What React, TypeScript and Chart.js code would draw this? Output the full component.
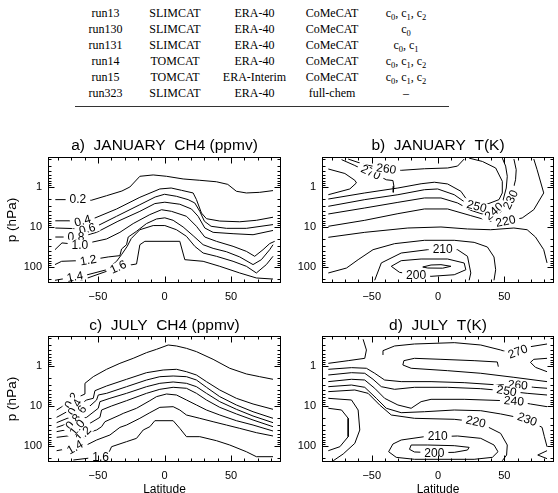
import React, { useEffect, useRef } from "react";
import { Chart, registerables } from "chart.js";

Chart.register(...registerables);

type Pt = [number, number]; // [latitude, pressure hPa]
type Lbl = [string, number, number, number]; // text, latitude, pressure, angle (deg)

// ---------------- Table ----------------
const runNames = ["run13", "run130", "run131", "run14", "run15", "run323"];
const modelNames = ["SLIMCAT", "SLIMCAT", "SLIMCAT", "TOMCAT", "TOMCAT", "SLIMCAT"];
const forcings = ["ERA-40", "ERA-40", "ERA-40", "ERA-40", "ERA-Interim", "ERA-40"];
const chemSchemes = ["CoMeCAT", "CoMeCAT", "CoMeCAT", "CoMeCAT", "CoMeCAT", "full-chem"];
const coefIndices: number[][] = [[0, 1, 2], [0], [0, 1], [0, 1, 2], [0, 1, 2], []];

// ---------------- Axes ----------------
const latTicks = [-50, 0, 50];
const pTicks = [1, 10, 100];
const latRange: Pt = [-87.5, 87.5];
const pRange: Pt = [0.178, 251];

// ---------------- a) January CH4 (ppmv) ----------------
const janCh4_02: Pt[] = [[-82, 2.07], [-65, 2.07], [-55, 2.15], [-43.5, 1.65], [-32, 1.26], [-26, 1.0], [-18.5, 0.54], [-8.5, 0.5], [1.5, 0.54], [14, 0.63], [26.5, 0.68], [39, 0.74], [47.5, 0.86], [54, 1.28], [61.5, 1.41], [71.5, 1.36], [81.5, 1.23]];
const janCh4_04: Pt[] = [[-82, 7.0], [-61.5, 7.0], [-53.5, 6.2], [-36, 3.55], [-18.5, 1.81], [-3.5, 1.12], [5, 1.06], [12.75, 1.21], [21.5, 1.41], [24, 2.07], [27.75, 4.47], [31.5, 6.2], [41.5, 7.1], [56.5, 7.4], [69, 6.8], [81.5, 5.7]];
const janCh4_06: Pt[] = [[-82, 10.6], [-58, 11.2], [-51, 9.6], [-36, 5.4], [-18.5, 2.77], [-7, 1.78], [0, 1.52], [9, 1.71], [17.75, 2.07], [22.75, 2.51], [26.5, 4.06], [30, 7.2], [35, 9.6], [46.5, 10.8], [61.5, 10.8], [81.5, 8.7]];
const janCh4_08: Pt[] = [[-82, 17.8], [-66.5, 17.8], [-59.75, 16.5], [-51, 13.6], [-35, 7.2], [-18.5, 4.06], [-7.25, 2.6], [0.25, 2.4], [11.5, 2.7], [20.25, 3.55], [25.25, 5.4], [30.25, 10.6], [36.5, 13.6], [51.5, 14.7], [66.5, 15.6], [81.5, 12.2]];
const janCh4_10: Pt[] = [[-82.25, 36.9], [-77, 25], [-63.5, 27.7], [-57.25, 25.1], [-43.5, 19.9], [-33.5, 13.6], [-23.5, 8.2], [-11, 4.9], [-2.25, 3.7], [5.25, 4.06], [16.5, 5.4], [24, 9.6], [30.25, 17.8], [39, 22.8], [51.5, 30.4], [61.5, 40.6], [67.75, 54], [74, 36.9], [79, 26], [82.75, 22.8]];
const janCh4_12: Pt[] = [[-82.25, 87], [-77.25, 72], [-57.25, 68], [-42.25, 56], [-33.5, 52], [-32.25, 35.5], [-28.5, 27.7], [-27.25, 17.8], [-21, 12.8], [-13.5, 8.2], [-6, 6.3], [0.25, 5.9], [6.5, 6.8], [14, 10.0], [21.5, 16.5], [29, 27.7], [36.5, 34.2], [46.5, 41.5], [56.5, 56], [66.5, 87], [72.75, 65.6], [79, 36.9], [81.5, 27.7]];
const janCh4_14: Pt[] = [[-82.25, 215], [-67.25, 175], [-58.5, 158], [-43.5, 117], [-36, 72], [-32.25, 49], [-28, 30.4], [-25, 19.5], [-18.5, 11.7], [-8.5, 9.2], [0.25, 9.2], [9, 11.7], [16.5, 17.1], [22.75, 30.4], [29, 44.7], [39, 54], [51.5, 72], [61.5, 96], [69, 141], [76.5, 87], [81.5, 54]];
const janCh4_16: Pt[] = [[-63.5, 220], [-43.5, 128], [-34.75, 100], [-21, 84], [-18.5, 27.7], [-14.75, 22.8], [11.5, 22.8], [15.25, 65.6], [29, 72], [41.5, 96], [56.5, 141], [69, 188], [81.5, 200]];
const janCh4Labels: Lbl[] = [["0.2", -65, 2.07, 0], ["0.4", -61.5, 7.0, -15], ["0.6", -58, 11.2, -15], ["0.8", -66.5, 17.8, 0], ["1.0", -63.5, 27.7, 0], ["1.2", -57.25, 68, -10], ["1.4", -67.25, 175, -10], ["1.6", -34.75, 100, -25]];

// ---------------- b) January T(K) ----------------
const janT_270a: Pt[] = [[-82.75, 0.355], [-70.25, 0.46], [-62.75, 0.68], [-61.5, 0.79], [-66.5, 1.12], [-82.75, 1.56]];
const janT_270: Pt[] = [[-72.75, 0.207], [-62.75, 0.29], [-56.5, 0.37], [-50.75, 0.43], [-44, 0.54], [-39, 0.66], [-34, 0.69], [-33.25, 0.96], [-33.75, 1.36]];
const janT_260: Pt[] = [[-67.75, 0.2], [-55.25, 0.277], [-39, 0.35], [-27.75, 0.383], [-10.25, 0.35], [7.25, 0.335], [14.75, 0.3], [19.75, 0.2]];
const janT_250: Pt[] = [[-82.75, 2.0], [-55.25, 1.41], [-30.25, 1.06], [-12.75, 0.83], [-2.75, 0.76], [7.25, 0.84], [17.25, 1.28], [23.5, 2.51], [29.25, 3.04], [36, 2.77], [46, 2.07], [48.5, 1.41], [48.5, 0.72], [43.5, 0.335], [33.5, 0.23], [23.5, 0.19]];
const janT_240: Pt[] = [[-82.75, 3.04], [-55.25, 2.07], [-30.25, 1.56], [-10.25, 1.17], [-0.25, 1.12], [12.25, 1.56], [22.25, 2.66], [32.25, 3.83], [42.25, 4.06], [48.5, 2.51], [51.5, 1.06], [52.25, 0.54], [51, 0.3], [48.5, 0.19]];
const janT_230: Pt[] = [[-82.75, 4.73], [-55.25, 3.35], [-30.25, 2.42], [-10.25, 1.88], [2.25, 1.88], [14.75, 2.51], [24.75, 3.83], [37.25, 5.2], [47.25, 4.3], [54.75, 2.07], [58.5, 0.66], [59, 0.37], [57.25, 0.2]];
const janT_220: Pt[] = [[-82.75, 9.6], [-55.25, 6.8], [-30.25, 4.64], [-10.25, 3.54], [7.25, 3.54], [24.75, 5.2], [39.75, 7.2], [51, 7.2], [63.5, 5.96], [72.25, 3.69], [79.75, 1.41], [74.75, 0.37], [72.25, 0.2]];
const janT_220b: Pt[] = [[-82.75, 18.1], [-55.25, 13.6], [-22.75, 10.6], [2.25, 10.0], [22.25, 11.2], [39.75, 11.7], [57.25, 10.6], [67.25, 11.7], [73.5, 17.8], [79.75, 36.9], [82.25, 79]];
const janT_215: Pt[] = [[-82.75, 141], [-69, 106], [-60.25, 65.6], [-49, 36.9], [-32.75, 26.1], [-10.25, 21.5], [12.25, 21.5], [27.25, 24.2], [37.25, 31.6], [42.25, 56.2], [43.5, 117], [42.25, 215]];
const janT_210: Pt[] = [[-47.75, 215], [-42.75, 79], [-27.75, 44.7], [-7.75, 36.9], [3.5, 36.9], [14.75, 36.9], [22.25, 54], [24.75, 141], [23.5, 215]];
const janT_200: Pt[] = [[-35.25, 96], [-27.75, 69.5], [-12.75, 63.1], [7.25, 63.1], [19.75, 79.4], [21, 117], [12.25, 156], [-5.25, 171], [-16.5, 156], [-29, 136], [-35.25, 96]];
const janT_190: Pt[] = [[-11.5, 100], [-5.25, 89], [2.25, 87.4], [9.75, 96], [3.5, 107], [-7.75, 106], [-11.5, 100]];
const janTLabels: Lbl[] = [["270", -50.75, 0.43, 25], ["260", -39, 0.35, 8], ["250", 29.25, 3.04, 15], ["240", 42.25, 4.06, -40], ["230", 54.75, 2.07, -65], ["220", 51, 7.2, -12], ["210", 3.5, 36.9, 0], ["200", -16.5, 160, 0]];

// ---------------- c) July CH4 (ppmv) ----------------
const julCh4_02: Pt[] = [[-81, 12.6], [-69.75, 7.36], [-63, 5.62], [-59.75, 5.01], [-59.75, 2.71], [-53.5, 1.85], [-43.5, 1.21], [-33.5, 0.858], [-23.5, 0.643], [-13.5, 0.464], [-6, 0.383], [2.75, 0.299], [9, 0.316], [16.5, 0.362], [24, 0.438], [36.5, 0.681], [49, 1.14], [61.5, 1.58], [71.5, 1.85], [81.5, 2.15]];
const julCh4_04: Pt[] = [[-81, 19.2], [-67.25, 10.8], [-58.5, 7.08], [-53.5, 6.43], [-52.25, 4.14], [-43.5, 3.16], [-28.5, 2.15], [-13.5, 1.47], [-1, 1.26], [9, 1.21], [16.5, 1.39], [24, 1.68], [31.5, 2.46], [41.5, 3.98], [54, 6.43], [66.5, 8.91], [81.5, 12.1]];
const julCh4_06: Pt[] = [[-81, 26.1], [-64, 15.3], [-56, 10], [-51, 7.08], [-49.75, 5.31], [-43.5, 4.82], [-28.5, 3.29], [-13.5, 2.24], [-3.5, 1.85], [6.5, 1.78], [16.5, 1.85], [24, 2.24], [31.5, 3.41], [41.5, 5.84], [54, 9.44], [66.5, 13.9], [81.5, 20.3]];
const julCh4_08: Pt[] = [[-81, 34.2], [-68.5, 24.7], [-58.5, 19.2], [-49.75, 11.4], [-48.5, 7.79], [-41, 6.43], [-28.5, 4.82], [-13.5, 3.29], [-3.5, 2.71], [6.5, 2.51], [16.5, 2.71], [24, 3.29], [31.5, 4.82], [41.5, 7.79], [54, 12.1], [66.5, 17.8], [81.5, 26.1]];
const julCh4_10: Pt[] = [[-81, 43.8], [-65.5, 34.8], [-56, 27.1], [-48.5, 19.2], [-47.25, 12.6], [-39.75, 10], [-28.5, 7.36], [-13.5, 4.82], [-3.5, 3.83], [6.5, 3.41], [16.5, 3.61], [24, 4.82], [31.5, 7.08], [41.5, 10.8], [54, 15.8], [66.5, 22.4], [81.5, 32.9]];
const julCh4_12: Pt[] = [[-81, 60.7], [-61, 50.1], [-51, 39.8], [-47.25, 32.9], [-44.75, 24.7], [-33.5, 16.8], [-31, 15.3], [-21, 11.4], [-11, 7.36], [-6, 5.84], [1.5, 5.01], [9, 5.31], [16.5, 7.08], [24, 9.44], [31.5, 12.6], [41.5, 16.8], [54, 23.3], [66.5, 29.9], [81.5, 42.2]];
const julCh4_14: Pt[] = [[-81, 131], [-67.25, 108], [-58.5, 94.4], [-51, 70.8], [-41, 53.1], [-33.5, 34.2], [-28.5, 29.9], [-18.5, 20.3], [-11, 14.7], [-3.5, 10.8], [6.5, 10.4], [11.5, 12.6], [16.5, 16.8], [26.5, 20.3], [36.5, 24.7], [46.5, 29.9], [56.5, 36.2], [69, 46.4], [81.5, 56.2]];
const julCh4_16: Pt[] = [[-68.5, 224], [-48, 185], [-42.25, 158], [-39.75, 104], [-28.5, 77.9], [-21, 64.3], [-16, 39.8], [-11, 32.9], [-7.25, 23.3], [6.5, 23.3], [11.5, 36.2], [16.5, 58.4], [26.5, 58.4], [39, 73.6], [49, 94.4], [61.5, 139], [69, 185], [81.5, 185]];
const julCh4Labels: Lbl[] = [["0.2", -69.75, 7.36, -60], ["0.4", -67.25, 10.8, -60], ["0.6", -64, 15.3, -55], ["0.8", -68.5, 24.7, -50], ["1.0", -65.5, 34.8, -50], ["1.2", -61, 50.1, -45], ["1.4", -67.25, 108, -30], ["1.6", -48, 185, 0]];

// ---------------- d) July T(K) ----------------
const julT_topLeft: Pt[] = [[-82.75, 0.858], [-67.75, 0.736], [-55.25, 0.643], [-54, 0.398], [-56.5, 0.215]];
const julT_270: Pt[] = [[-41.5, 0.531], [-41.5, 0.414], [-32.75, 0.316], [-17.75, 0.282], [12.25, 0.261], [32.25, 0.299], [47.25, 0.398], [54.75, 0.483], [60.25, 0.438], [69.75, 0.329], [82.25, 0.282]];
const julT_265: Pt[] = [[45.5, 1.04], [44.75, 0.794], [27.25, 0.736], [2.25, 0.681], [-17.75, 0.643], [-25.75, 0.736], [-26.5, 0.944], [-20.25, 1.14], [7.25, 1.31], [32.25, 1.52], [57.25, 1.92], [82.25, 2.46]];
const julT_270r: Pt[] = [[82.25, 0.643], [72.25, 0.681], [69.75, 0.81], [73.5, 1.08], [82.25, 1.39]];
const julT_260: Pt[] = [[-82.75, 1.21], [-65.25, 1.1], [-54, 1.14], [-47.75, 1.52], [-40.25, 2.24], [-27.75, 2.46], [-5.25, 2.46], [19.75, 2.61], [42.25, 2.93], [60.25, 2.99], [72.25, 3.41], [82.25, 3.61]];
const julT_250: Pt[] = [[-82.75, 1.68], [-65.25, 1.47], [-55.25, 1.52], [-49, 2.15], [-42.75, 3.29], [-32.75, 3.83], [-17.75, 3.41], [7.25, 3.41], [32.25, 3.69], [51.75, 4.22], [67.25, 4.82], [82.25, 5.31]];
const julT_240: Pt[] = [[-82.75, 2.46], [-65.25, 2.15], [-55.25, 2.24], [-47.75, 3.61], [-40.25, 6.43], [-30.25, 9.44], [-20.25, 11.4], [-12.75, 7.79], [-5.25, 6.81], [19.75, 6.81], [42.25, 7.21], [57.25, 7.5], [69.75, 8.91], [82.25, 10.4]];
const julT_230: Pt[] = [[-82.75, 3.29], [-65.25, 2.99], [-55.25, 3.41], [-46.5, 6.43], [-39, 11.4], [-27.75, 14.7], [-10.25, 13.9], [12.25, 12.6], [32.25, 13.1], [47.25, 15.8], [67.25, 21.5], [78.5, 34.2], [80.25, 58.4], [82.25, 104]];
const julT_220: Pt[] = [[-82.75, 4.38], [-62.75, 3.98], [-52.75, 4.82], [-44, 9.44], [-35.25, 16.8], [-17.75, 20.3], [12.25, 21.5], [28.5, 24.7], [37.25, 32.9], [47.25, 48.3], [52.25, 94.4], [51.75, 168], [48.5, 233]];
const julT_225: Pt[] = [[-82.75, 11.4], [-72.75, 12.6], [-67.75, 20.3], [-67.75, 58.4], [-74, 104], [-82.75, 131]];
const julT_220b: Pt[] = [[-82.75, 6.43], [-65.25, 7.08], [-60.25, 12.6], [-59, 39.8], [-62.75, 85.8], [-71.5, 158], [-79, 233]];
const julT_210: Pt[] = [[-37.25, 139], [-34, 89.1], [-27.75, 70.8], [-10.25, 58.4], [-0.25, 58.4], [14.75, 56.2], [32.25, 64.3], [42.25, 94.4], [45.25, 139], [41, 192], [27.25, 215], [-17.75, 215], [-31.5, 192], [-37.25, 139]];
const julT_200: Pt[] = [[-20.25, 94.4], [-21.5, 121], [-17.75, 141], [-2.75, 147], [12.25, 144], [22.25, 126], [23.5, 108], [12.25, 98.1], [-7.75, 94.4], [-20.25, 94.4]];
const julT_rightLow: Pt[] = [[82.25, 131], [75.25, 168], [82.25, 207]];
const julTLabels: Lbl[] = [["270", 60.25, 0.438, -20], ["260", 60.25, 2.99, 5], ["250", 51.75, 4.22, 10], ["240", 57.25, 7.5, 5], ["230", 67.25, 21.5, 20], ["220", 28.5, 24.7, 12], ["210", -0.25, 58.4, 0], ["200", -2.75, 147, 0]];

// ---------------- Rendering ----------------
const SANS = '"Liberation Sans", Arial, Helvetica, sans-serif';

interface PanelSpec {
  title: string;
  lines: Pt[][];
  labels: Lbl[];
  left: number;
  top: number;
  width: number;
  height: number;
  padRight: number;
  yTitle: boolean;
  xTitle: boolean;
  titlePadTop: number;
  titlePadBottom: number;
  xAxisHeight: number;
}

const panels: PanelSpec[] = [
  { title: "a)  JANUARY  CH4 (ppmv)", lines: [janCh4_02, janCh4_04, janCh4_06, janCh4_08, janCh4_10, janCh4_12, janCh4_14, janCh4_16], labels: janCh4Labels, left: 0, top: 120, width: 290, height: 192, padRight: 9, yTitle: true, xTitle: false, titlePadTop: 16.2, titlePadBottom: 2.2, xAxisHeight: 29 },
  { title: "b)  JANUARY  T(K)", lines: [janT_270a, janT_270, janT_260, janT_250, janT_240, janT_230, janT_220, janT_220b, janT_215, janT_210, janT_200, janT_190], labels: janTLabels, left: 274, top: 120, width: 284, height: 192, padRight: 4, yTitle: false, xTitle: false, titlePadTop: 16.2, titlePadBottom: 2.2, xAxisHeight: 29 },
  { title: "c)  JULY  CH4 (ppmv)", lines: [julCh4_02, julCh4_04, julCh4_06, julCh4_08, julCh4_10, julCh4_12, julCh4_14, julCh4_16], labels: julCh4Labels, left: 0, top: 300, width: 290, height: 200, padRight: 9, yTitle: true, xTitle: true, titlePadTop: 16.2, titlePadBottom: 1.2, xAxisHeight: 38 },
  { title: "d)  JULY  T(K)", lines: [julT_topLeft, julT_270, julT_265, julT_270r, julT_260, julT_250, julT_240, julT_230, julT_220, julT_225, julT_220b, julT_210, julT_200, julT_rightLow], labels: julTLabels, left: 274, top: 300, width: 284, height: 200, padRight: 4, yTitle: false, xTitle: true, titlePadTop: 16.2, titlePadBottom: 1.2, xAxisHeight: 38 },
];

function makeDecor(labels: Lbl[]) {
  return {
    id: "contourDecor",
    afterDatasetsDraw(chart: any) {
      const { ctx, chartArea, scales } = chart;
      const xs = scales.x;
      const ys = scales.y;
      ctx.save();
      // contour labels
      ctx.font = `12px ${SANS}`;
      ctx.textAlign = "center";
      ctx.textBaseline = "middle";
      for (const [t, lat, p, ang] of labels) {
        const px = xs.getPixelForValue(lat);
        const py = ys.getPixelForValue(p);
        ctx.save();
        ctx.translate(px, py);
        ctx.rotate((ang * Math.PI) / 180);
        const w = ctx.measureText(t).width;
        ctx.fillStyle = "#fff";
        ctx.fillRect(-w / 2 - 4, -5, w + 8, 10);
        ctx.fillStyle = "#000";
        ctx.fillText(t, 0, 0.5);
        ctx.restore();
      }
      // frame and inward ticks
      const L = Math.round(chartArea.left) + 0.5;
      const R = Math.round(chartArea.right) - 0.5;
      const T = Math.round(chartArea.top) + 0.5;
      const B = Math.round(chartArea.bottom) - 0.5;
      ctx.strokeStyle = "#000";
      ctx.lineWidth = 1;
      ctx.strokeRect(L, T, R - L, B - T);
      ctx.beginPath();
      for (let v = -80; v <= 80; v += 10) {
        const X = Math.round(xs.getPixelForValue(v)) + 0.5;
        const len = v % 50 === 0 ? 6 : 3;
        ctx.moveTo(X, T);
        ctx.lineTo(X, T + len);
        ctx.moveTo(X, B);
        ctx.lineTo(X, B - len);
      }
      for (const d of [0.1, 1, 10, 100]) {
        for (let m = 1; m <= 9; m++) {
          const v = m * d;
          if (v < pRange[0] || v > pRange[1]) continue;
          const Y = Math.round(ys.getPixelForValue(v)) + 0.5;
          const len = m === 1 ? 6 : 3;
          ctx.moveTo(L, Y);
          ctx.lineTo(L + len, Y);
          ctx.moveTo(R, Y);
          ctx.lineTo(R - len, Y);
        }
      }
      ctx.stroke();
      ctx.restore();
    },
  };
}

function Panel({ spec }: { spec: PanelSpec }) {
  const ref = useRef<HTMLCanvasElement>(null);
  useEffect(() => {
    const canvas = ref.current;
    if (!canvas) return;
    const chart = new Chart(canvas, {
      type: "scatter",
      data: {
        datasets: spec.lines.map((ln) => ({
          data: ln.map(([lat, p]) => ({ x: lat, y: p })),
          showLine: true,
          borderColor: "#000",
          borderWidth: 1,
          pointRadius: 0,
          pointHoverRadius: 0,
          fill: false,
          tension: 0,
        })),
      },
      options: {
        responsive: false,
        animation: false,
        devicePixelRatio: 1,
        events: [],
        layout: { padding: { left: 0, right: spec.padRight, top: 0, bottom: 0 } },
        plugins: {
          legend: { display: false },
          tooltip: { enabled: false },
          title: {
            display: true,
            text: spec.title,
            fullSize: false,
            color: "#000",
            font: { family: SANS, size: 15.5, weight: "normal", lineHeight: 1.2 },
            padding: { top: spec.titlePadTop, bottom: spec.titlePadBottom },
          },
        },
        scales: {
          x: {
            type: "linear",
            position: "bottom",
            min: latRange[0],
            max: latRange[1],
            grid: { display: false, drawTicks: false },
            border: { display: false },
            afterBuildTicks: (s: any) => {
              s.ticks = latTicks.map((v) => ({ value: v }));
            },
            afterFit: (s: any) => {
              s.height = spec.xAxisHeight;
            },
            ticks: {
              color: "#000",
              font: { family: SANS, size: 11 },
              padding: 7,
              maxRotation: 0,
              autoSkip: false,
              callback: (v: any) => (Number(v) < 0 ? "\u2212" + Math.abs(Number(v)) : String(v)),
            },
            title: {
              display: spec.xTitle,
              text: "Latitude",
              color: "#000",
              font: { family: SANS, size: 12, weight: "normal", lineHeight: 1.2 },
              padding: { top: 0, bottom: 2.8 },
            },
          },
          y: {
            type: "logarithmic",
            position: "left",
            reverse: true,
            min: pRange[0],
            max: pRange[1],
            grid: { display: false, drawTicks: false },
            border: { display: false },
            afterBuildTicks: (s: any) => {
              s.ticks = pTicks.map((v) => ({ value: v }));
            },
            afterFit: (s: any) => {
              s.width = 48;
            },
            ticks: {
              color: "#000",
              font: { family: SANS, size: 11 },
              padding: 6,
              autoSkip: false,
              callback: (v: any) => String(v),
            },
            title: {
              display: spec.yTitle,
              text: "p (hPa)",
              color: "#000",
              font: { family: SANS, size: 13.5, weight: "normal", lineHeight: 1.2 },
              padding: { top: 4.5, bottom: 0 },
            },
          },
        },
      } as any,
      plugins: [makeDecor(spec.labels)],
    });
    return () => chart.destroy();
  }, [spec]);
  return (
    <canvas
      ref={ref}
      width={spec.width}
      height={spec.height}
      style={{ position: "absolute", left: spec.left, top: spec.top, width: spec.width, height: spec.height }}
    />
  );
}

const colX = [105.5, 175, 254.5, 332, 406];
const rowY0 = 12.7;
const rowStep = 16.1;
const SERIF = '"Liberation Serif", "Times New Roman", Times, serif';

function Coef({ idx }: { idx: number[] }) {
  if (idx.length === 0) return <span>{"\u2013"}</span>;
  return (
    <span>
      {idx.map((k, i) => (
        <span key={k}>
          c<sub style={{ fontSize: "8.5px", verticalAlign: "-3px", lineHeight: 0 }}>{k}</sub>
          {i < idx.length - 1 ? ", " : ""}
        </span>
      ))}
    </span>
  );
}

function Table() {
  const cell = (x: number, y: number, content: React.ReactNode, key: string) => (
    <div
      key={key}
      style={{
        position: "absolute",
        left: x,
        top: y,
        transform: "translate(-50%, -50%)",
        whiteSpace: "nowrap",
        fontFamily: SERIF,
        fontSize: "12px",
        lineHeight: "14px",
        color: "#000",
      }}
    >
      {content}
    </div>
  );
  const cells: React.ReactNode[] = [];
  runNames.forEach((r, i) => {
    const y = rowY0 + rowStep * i;
    cells.push(cell(colX[0], y, r, "r" + i));
    cells.push(cell(colX[1], y, modelNames[i], "m" + i));
    cells.push(cell(colX[2], y, forcings[i], "f" + i));
    cells.push(cell(colX[3], y, chemSchemes[i], "c" + i));
    cells.push(cell(colX[4], y, <Coef idx={coefIndices[i]} />, "k" + i));
  });
  return (
    <>
      {cells}
      <div style={{ position: "absolute", left: 75, top: 106, width: 374, height: 1, background: "#333" }} />
    </>
  );
}

export default function App() {
  useEffect(() => {
    document.documentElement.style.overflow = "hidden";
    document.body.style.overflow = "hidden";
  }, []);
  return (
    <div style={{ position: "fixed", left: 0, top: 0, width: 558, height: 493, overflow: "hidden", background: "#fff" }}>
      <Table />
      {panels.map((p, i) => (
        <Panel key={i} spec={p} />
      ))}
    </div>
  );
}
